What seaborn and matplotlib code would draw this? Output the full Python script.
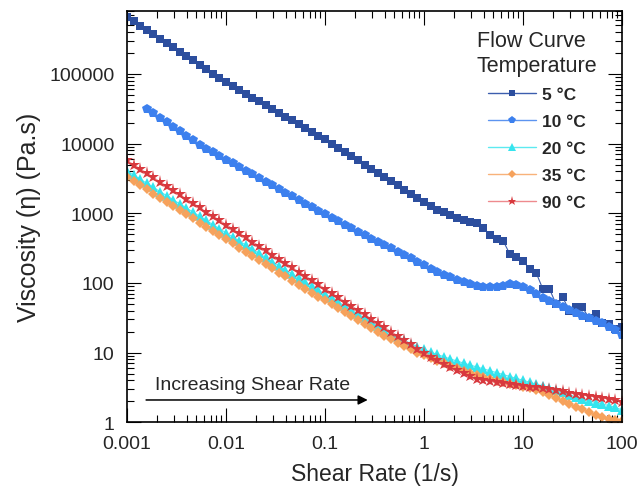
import matplotlib
matplotlib.use("Agg")
import matplotlib.pyplot as plt
from matplotlib.lines import Line2D
from matplotlib.ticker import FixedLocator, FixedFormatter, LogLocator, NullFormatter
import numpy as np
import pandas as pd
import seaborn as sns

# Shear rates of the flow-curve sweep (1/s), 15 points per decade
shear_rate = [
    0.001, 0.001166, 0.001359, 0.001585, 0.001848, 0.002154, 0.002512, 0.002929,
    0.003415, 0.003981, 0.004642, 0.005412, 0.00631, 0.007356, 0.008577,
    0.01, 0.01166, 0.01359, 0.01585, 0.01848, 0.02154, 0.02512, 0.02929,
    0.03415, 0.03981, 0.04642, 0.05412, 0.0631, 0.07356, 0.08577,
    0.1, 0.1166, 0.1359, 0.1585, 0.1848, 0.2154, 0.2512, 0.2929,
    0.3415, 0.3981, 0.4642, 0.5412, 0.631, 0.7356, 0.8577,
    1.0, 1.166, 1.359, 1.585, 1.848, 2.154, 2.512, 2.929,
    3.415, 3.981, 4.642, 5.412, 6.31, 7.356, 8.577,
    10.0, 11.66, 13.59, 15.85, 18.48, 21.54, 25.12, 29.29,
    34.15, 39.81, 46.42, 54.12, 63.1, 73.56, 85.77,
    100.0,
]

# Viscosity (Pa.s) at each temperature
visc_5C = [
    660000, 571000, 495000, 429000, 371000, 321000, 278000, 240000, 208000, 180000,
    156000, 135000, 117000, 101000, 87500, 75900, 66800, 59000, 52000, 45800,
    40500, 35600, 31400, 27700, 24400, 21500, 19000, 16700, 14800, 13000,
    11500, 10000, 8710, 7590, 6610, 5750, 5010, 4370, 3800, 3310,
    2880, 2510, 2190, 1910, 1660, 1450, 1270, 1120, 1045, 946,
    857, 802, 750, 726, 615, 488, 427, 400, 260, 236,
    207, 159, 139, 82, 82, 50, 63, 40, 45, 45,
    31, 36, 26.5, 26, 22, 23,
]
# the 10 °C sweep begins at the fourth shear rate
visc_10C = [
    31400, 27100, 23300, 20100, 17300, 15000, 12900, 11100, 9570,
    8470, 7520, 6650, 5890, 5220, 4620, 4090, 3630, 3210, 2840,
    2520, 2230, 1980, 1750, 1550, 1380, 1230, 1090, 975, 865,
    771, 684, 608, 539, 483, 434, 389, 349, 313, 281,
    251, 225, 202, 181, 161, 144, 130, 120, 110, 103,
    96.7, 90.5, 87.5, 86.1, 87.5, 90.5, 95.1, 93.5, 87.5, 78.0,
    69.5, 60.8, 55.1, 49.9, 44.5, 40.3, 36.5, 33.6, 30.9, 28.5,
    26.2, 23.7, 21.1, 17.9,
]
visc_20C = [
    4050, 3540, 3090, 2690, 2350, 2050, 1790, 1560, 1360, 1190,
    1040, 906, 791, 689, 601, 525, 458, 401, 349, 304,
    266, 232, 203, 177, 154, 135, 117, 103, 90.2, 79.0,
    69.2, 60.7, 53.2, 46.6, 40.8, 35.7, 31.3, 27.4, 24.0, 21.2,
    18.8, 16.8, 15.0, 13.5, 12.2, 11.2, 10.2, 9.40, 8.71, 8.11,
    7.56, 7.08, 6.62, 6.22, 5.84, 5.49, 5.15, 4.84, 4.54, 4.27,
    4.01, 3.76, 3.53, 3.32, 3.11, 2.90, 2.70, 2.50, 2.31, 2.16,
    2.04, 1.92, 1.83, 1.74, 1.64, 1.50,
]
visc_35C = [
    3320, 2890, 2520, 2200, 1920, 1670, 1460, 1270, 1110, 966,
    843, 733, 640, 557, 487, 424, 370, 322, 281, 245,
    214, 186, 163, 141, 124, 107, 93.8, 82.5, 72.5, 63.7,
    56.0, 49.3, 43.3, 38.1, 33.5, 29.4, 25.9, 22.7, 20.0, 17.6,
    15.6, 13.8, 12.3, 11.1, 10.0, 9.12, 8.35, 7.66, 7.05, 6.49,
    5.98, 5.51, 5.09, 4.71, 4.40, 4.14, 3.93, 3.74, 3.57, 3.41,
    3.25, 3.10, 2.93, 2.75, 2.47, 2.23, 2.02, 1.83, 1.66, 1.53,
    1.41, 1.29, 1.21, 1.13, 1.08, 1.03,
]
visc_90C = [
    5750, 4990, 4330, 3770, 3270, 2830, 2460, 2130, 1860, 1610,
    1400, 1210, 1050, 915, 794, 689, 597, 518, 451, 391,
    340, 294, 255, 222, 193, 167, 145, 126, 110, 95.1,
    82.5, 71.6, 62.1, 54.0, 46.9, 40.7, 35.3, 30.6, 26.6, 23.1,
    20.0, 17.4, 15.1, 13.1, 11.4, 9.88, 8.66, 7.71, 6.87, 6.12,
    5.54, 5.02, 4.62, 4.25, 4.05, 3.85, 3.73, 3.61, 3.49, 3.38,
    3.32, 3.24, 3.16, 3.08, 2.98, 2.88, 2.77, 2.66, 2.55, 2.47,
    2.39, 2.31, 2.23, 2.16, 2.06, 1.96,
]

temperatures = ["5 °C", "10 °C", "20 °C", "35 °C", "90 °C"]
colors = ["#2C4E9E", "#3C80EE", "#35E4EE", "#F6A25C", "#D8393E"]
line_colors = ["#3C5EAE", "#5C94F0", "#5CEAF0", "#F8B27A", "#EE8A8E"]
markers = ["s", "p", "^", "D", "*"]
marker_sizes = [6.4, 7.6, 7.6, 5.3, 9.5]

x_ticks = [0.001, 0.01, 0.1, 1, 10, 100]
x_tick_labels = ["0.001", "0.01", "0.1", "1", "10", "100"]
y_ticks = [1, 10, 100, 1000, 10000, 100000]
y_tick_labels = ["1", "10", "100", "1000", "10000", "100000"]

series = {
    "5 °C": (shear_rate, visc_5C),
    "10 °C": (shear_rate[3:], visc_10C),
    "20 °C": (shear_rate, visc_20C),
    "35 °C": (shear_rate, visc_35C),
    "90 °C": (shear_rate, visc_90C),
}

sns.set_theme(style="ticks")
plt.rcParams["font.family"] = ["Liberation Sans", "DejaVu Sans"]

fig = plt.figure(figsize=(6.41, 5.02), dpi=100)
ax = fig.add_axes([0.1981, 0.1568, 0.7723, 0.8193])

for temp, color, lc, mk, ms in zip(temperatures, colors, line_colors, markers, marker_sizes):
    xs, ys = series[temp]
    df = pd.DataFrame({"shear": xs, "visc": ys})
    sns.lineplot(data=df, x="shear", y="visc", ax=ax, color=lc, marker=mk,
                 markersize=ms, markerfacecolor=color, markeredgewidth=0,
                 linewidth=0.8, estimator=None, sort=False, legend=False)

ax.set_xscale("log")
ax.set_yscale("log")
ax.set_xlim(0.001, 100)
ax.set_ylim(1, 8e5)

ax.xaxis.set_major_locator(FixedLocator(x_ticks))
ax.xaxis.set_major_formatter(FixedFormatter(x_tick_labels))
ax.yaxis.set_major_locator(FixedLocator(y_ticks))
ax.yaxis.set_major_formatter(FixedFormatter(y_tick_labels))
for axis in (ax.xaxis, ax.yaxis):
    axis.set_minor_locator(LogLocator(base=10, subs=np.arange(2, 10), numticks=20))
    axis.set_minor_formatter(NullFormatter())

ax.tick_params(which="both", direction="in", top=True, right=True,
               color="black", width=0.8)
ax.tick_params(which="major", length=10, labelsize=14, pad=9)
ax.tick_params(which="minor", length=5)
for sp in ax.spines.values():
    sp.set_linewidth(1.2)
    sp.set_color("black")

ax.set_xlabel("Shear Rate (1/s)", fontsize=16.5, labelpad=7)
ax.set_ylabel("Viscosity (η) (Pa.s)", fontsize=18, labelpad=6)

# direction-of-sweep annotation
ax.annotate("", xy=(0.27, 2.09), xytext=(0.00156, 2.09),
            arrowprops=dict(arrowstyle="-|>", color="black", lw=1.1,
                            mutation_scale=14, shrinkA=0, shrinkB=0))
ax.text(0.00192, 3.5, "Increasing Shear Rate", fontsize=14, va="center",
        ha="left")

handles = [
    Line2D([], [], color=lc, marker=m, markersize=s * 0.7,
           markerfacecolor=c, markeredgewidth=0, linewidth=1.0)
    for c, lc, m, s in zip(colors, line_colors, markers, marker_sizes)
]
leg = ax.legend(handles, temperatures, title="Flow Curve\nTemperature",
                loc="upper right", bbox_to_anchor=(0.95, 0.955),
                frameon=False, borderpad=0, borderaxespad=0,
                handlelength=2.8, handletextpad=0.35, labelspacing=0.68,
                prop={"weight": "bold", "size": 12.5},
                title_fontproperties={"size": 15.5})
leg.get_title().set_linespacing(1.25)

fig.savefig("out.png", dpi=100)
